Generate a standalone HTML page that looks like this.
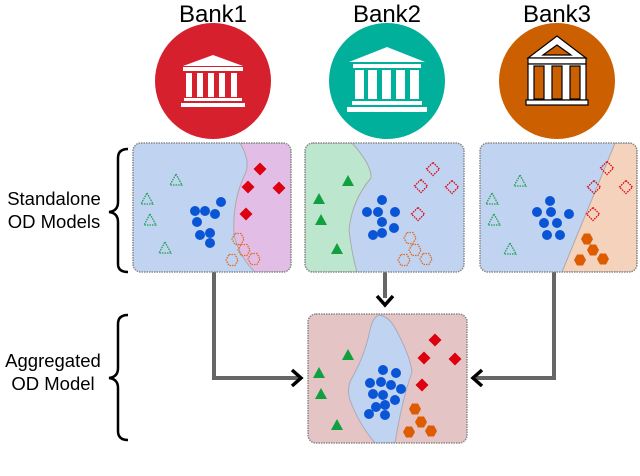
<!DOCTYPE html>
<html><head><meta charset="utf-8"><style>
html,body{margin:0;padding:0;background:#fff;}
svg{display:block;font-family:"Liberation Sans",sans-serif;}
</style></head><body>
<svg width="640" height="476" viewBox="0 0 640 476" xmlns="http://www.w3.org/2000/svg">
<defs>
<g id="tri"><polygon points="0,-6 6,5 -6,5"/></g>
<g id="dia"><polygon points="0,-6.5 6.5,0 0,6.5 -6.5,0"/></g>
<g id="hex"><polygon points="-3,-5.5 3,-5.5 6,0 3,5.5 -3,5.5 -6,0"/></g>
<clipPath id="c1"><rect x="133" y="143" width="158" height="129" rx="8"/></clipPath>
<clipPath id="c2"><rect x="305" y="143" width="159" height="129" rx="8"/></clipPath>
<clipPath id="c3"><rect x="480" y="143" width="157" height="129" rx="8"/></clipPath>
<clipPath id="c4"><rect x="308" y="314" width="159" height="129" rx="8"/></clipPath>
</defs>

<g font-size="24" text-anchor="middle" fill="#000">
<text x="213" y="22">Bank1</text>
<text x="387" y="22">Bank2</text>
<text x="557" y="22">Bank3</text>
</g>
<circle cx="213" cy="81" r="58" fill="#d7202e"/>
<circle cx="387" cy="81" r="58" fill="#00b09b"/>
<circle cx="557" cy="81" r="58" fill="#cc6000"/>
<g fill="#fff">
<polygon points="213,55 183,66 243,66"/>
<rect x="183" y="67" width="60" height="4"/>
<rect x="186" y="73" width="6" height="24"/><rect x="197" y="73" width="6" height="24"/><rect x="208" y="73" width="6" height="24"/><rect x="219" y="73" width="6" height="24"/><rect x="231" y="73" width="6" height="24"/>
<rect x="184" y="98" width="58" height="3"/>
<rect x="181" y="103" width="64" height="4"/>
</g>
<g fill="#fff">
<polygon points="387,47 349,62 425,62"/>
<rect x="353" y="64" width="68" height="4"/>
<rect x="355" y="70" width="9" height="29"/><rect x="368" y="70" width="9" height="29"/><rect x="382" y="70" width="9" height="29"/><rect x="396" y="70" width="9" height="29"/><rect x="410" y="70" width="9" height="29"/>
<rect x="352" y="101" width="70" height="4"/>
<rect x="347" y="107" width="80" height="5"/>
</g>
<g stroke="#000" stroke-width="1.2">
<polygon points="557,36 528,58 586,58 " fill="#fff"/>
<polygon points="557,45 543,55 571,55" fill="#cc6000"/>
<rect x="528" y="58" width="58" height="6" fill="#fff"/>
<rect x="528" y="64" width="58" height="36" fill="#fff"/>
<rect x="534" y="66" width="10" height="33" fill="#cc6000"/><rect x="552" y="66" width="10" height="33" fill="#cc6000"/><rect x="570" y="66" width="10" height="33" fill="#cc6000"/>
<rect x="526" y="100" width="62" height="5" fill="#fff"/>
</g>

<g font-size="18.5" text-anchor="middle" fill="#000">
<text x="54" y="205">Standalone</text>
<text x="54" y="228">OD Models</text>
<text x="53" y="367">Aggregated</text>
<text x="53" y="390">OD Model</text>
</g>
<g fill="none" stroke="#000" stroke-width="2.5">
<path d="M128,149 Q118,149 118,158 L118,202 Q118,211 109,212 Q118,213 118,222 L118,264 Q118,272 128,272"/>
<path d="M128,315 Q118,315 118,324 L118,368 Q118,377 109,378 Q118,379 118,388 L118,431 Q118,440 128,440"/>
</g>

<g fill="none" stroke="#666" stroke-width="4">
<path d="M214,272 L214,378 L298,378"/>
<path d="M554,272 L554,378 L476,378"/>
<path d="M385,272 L385,298"/>
</g>
<g fill="none" stroke="#000" stroke-width="3.5">
<path d="M292,370 L301,378 L292,386"/>
<path d="M482,370 L473,378 L482,386"/>
<path d="M377,296 L385,305 L393,296"/>
</g>

<g clip-path="url(#c1)">
<rect x="133" y="143" width="158" height="129" fill="#c0d4f2"/>
<path d="M240,143 Q250,160 246,172 Q232,200 234,235 Q240,258 255,272 L291,272 L291,143Z" fill="#e2bde6" stroke="#aaa" stroke-width="1"/>
</g>
<rect x="133" y="143" width="158" height="129" rx="8" fill="none" stroke="#888" stroke-width="1.5" stroke-dasharray="1.5 1"/>
<g fill="none" stroke="#20a050" stroke-width="1.3" stroke-dasharray="1.5 1">
<use href="#tri" x="176" y="180"/><use href="#tri" x="147" y="199"/><use href="#tri" x="150" y="220"/><use href="#tri" x="165" y="248"/>
</g>
<g fill="#0a55d6">
<circle cx="221" cy="202" r="5"/><circle cx="195" cy="211" r="5"/><circle cx="205" cy="211" r="5"/><circle cx="215" cy="214" r="5"/><circle cx="197" cy="222" r="5"/><circle cx="200" cy="235" r="5"/><circle cx="210" cy="233" r="5"/><circle cx="210" cy="243" r="5"/>
</g>
<g fill="#dd0011"><use href="#dia" x="260" y="169"/><use href="#dia" x="248" y="187"/><use href="#dia" x="279" y="188"/><use href="#dia" x="246" y="214"/></g>
<g fill="none" stroke="#e06a20" stroke-width="1.3" stroke-dasharray="1.5 1">
<use href="#hex" x="238" y="239"/><use href="#hex" x="244" y="250"/><use href="#hex" x="232" y="260"/><use href="#hex" x="254" y="259"/>
</g>

<g clip-path="url(#c2)">
<rect x="305" y="143" width="159" height="129" fill="#c0d4f2"/>
<path d="M305,143 L352,143 Q372,165 371,178 Q352,200 349,230 Q352,255 357,272 L305,272Z" fill="#bde6cf" stroke="#aaa" stroke-width="1"/>
</g>
<rect x="305" y="143" width="159" height="129" rx="8" fill="none" stroke="#888" stroke-width="1.5" stroke-dasharray="1.5 1"/>
<g fill="#10a040"><use href="#tri" x="348" y="181"/><use href="#tri" x="319" y="199"/><use href="#tri" x="321" y="220"/><use href="#tri" x="337" y="249"/></g>
<g fill="#0a55d6">
<circle cx="382" cy="200" r="5"/><circle cx="367" cy="212" r="5"/><circle cx="378" cy="212" r="5"/><circle cx="395" cy="212" r="5"/><circle cx="382" cy="222" r="5"/><circle cx="394" cy="228" r="5"/><circle cx="373" cy="235" r="5"/><circle cx="382" cy="233" r="5"/>
</g>
<g fill="none" stroke="#dd0011" stroke-width="1.3" stroke-dasharray="1.5 1"><use href="#dia" x="433" y="169"/><use href="#dia" x="421" y="186"/><use href="#dia" x="452" y="187"/><use href="#dia" x="418" y="214"/></g>
<g fill="none" stroke="#e06a20" stroke-width="1.3" stroke-dasharray="1.5 1"><use href="#hex" x="410" y="238"/><use href="#hex" x="415" y="250"/><use href="#hex" x="404" y="260"/><use href="#hex" x="426" y="259"/></g>

<g clip-path="url(#c3)">
<rect x="480" y="143" width="157" height="129" fill="#c0d4f2"/>
<path d="M615,143 L562,272 L637,272 L637,143Z" fill="#f4d2bc" stroke="#aaa" stroke-width="1"/>
</g>
<rect x="480" y="143" width="157" height="129" rx="8" fill="none" stroke="#888" stroke-width="1.5" stroke-dasharray="1.5 1"/>
<g fill="none" stroke="#20a050" stroke-width="1.3" stroke-dasharray="1.5 1"><use href="#tri" x="520" y="181"/><use href="#tri" x="492" y="199"/><use href="#tri" x="494" y="220"/><use href="#tri" x="510" y="249"/></g>
<g fill="#0a55d6">
<circle cx="550" cy="201" r="5"/><circle cx="537" cy="212" r="5"/><circle cx="551" cy="212" r="5"/><circle cx="569" cy="214" r="5"/><circle cx="544" cy="223" r="5"/><circle cx="557" cy="223" r="5"/><circle cx="547" cy="235" r="5"/><circle cx="560" cy="235" r="5"/>
</g>
<g fill="none" stroke="#dd0011" stroke-width="1.3" stroke-dasharray="1.5 1"><use href="#dia" x="607" y="168"/><use href="#dia" x="594" y="187"/><use href="#dia" x="626" y="187"/><use href="#dia" x="593" y="214"/></g>
<g fill="#dd5c00"><use href="#hex" x="587" y="239"/><use href="#hex" x="593" y="250"/><use href="#hex" x="580" y="260"/><use href="#hex" x="603" y="259"/></g>

<g clip-path="url(#c4)">
<rect x="308" y="314" width="159" height="129" fill="#e4c4c4"/>
<path d="M380,315 Q390,318 395,328 Q410,355 412,372 Q402,400 395,443 L375,443 Q360,425 352,405 Q345,390 352,378 Q365,355 370,330 Q373,316 380,315Z" fill="#c0d4f2" stroke="#aab" stroke-width="1"/>
</g>
<rect x="308" y="314" width="159" height="129" rx="8" fill="none" stroke="#888" stroke-width="1.5" stroke-dasharray="1.5 1"/>
<g fill="#10a040"><use href="#tri" x="348" y="355"/><use href="#tri" x="319" y="373"/><use href="#tri" x="321" y="394"/><use href="#tri" x="337" y="425"/></g>
<g fill="#0a55d6">
<circle cx="383" cy="370" r="5"/><circle cx="396" cy="373" r="5"/><circle cx="370" cy="383" r="5"/><circle cx="381" cy="382" r="5"/><circle cx="391" cy="385" r="5"/><circle cx="401" cy="389" r="5"/><circle cx="373" cy="394" r="5"/><circle cx="383" cy="395" r="5"/><circle cx="395" cy="400" r="5"/><circle cx="376" cy="407" r="5"/><circle cx="385" cy="405" r="5"/><circle cx="369" cy="414" r="5"/><circle cx="385" cy="415" r="5"/>
</g>
<g fill="#dd0011"><use href="#dia" x="435" y="340"/><use href="#dia" x="424" y="358"/><use href="#dia" x="455" y="359"/><use href="#dia" x="422" y="385"/></g>
<g fill="#dd5c00"><use href="#hex" x="415" y="409"/><use href="#hex" x="421" y="422"/><use href="#hex" x="409" y="432"/><use href="#hex" x="431" y="431"/></g>
</svg>
</body></html>
